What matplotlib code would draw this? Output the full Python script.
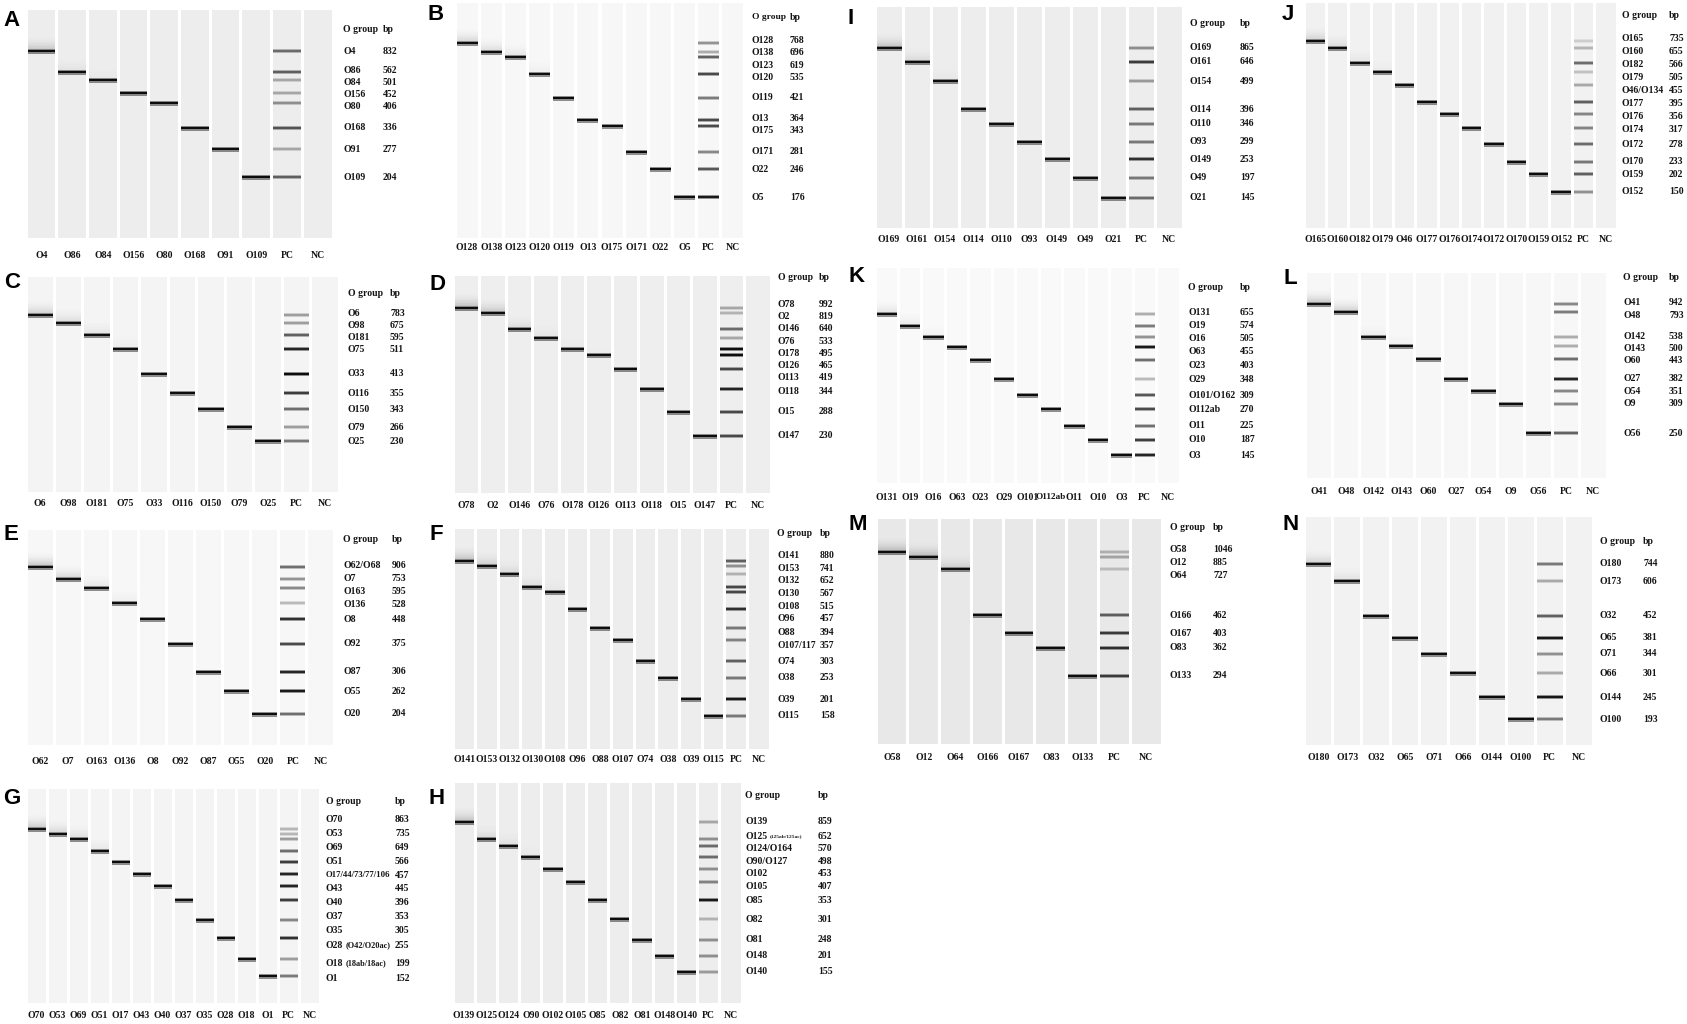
import matplotlib
matplotlib.use("Agg")
import matplotlib.pyplot as plt
from matplotlib.patches import Rectangle

plt.rcParams['font.family'] = ['Liberation Serif', 'DejaVu Serif']

W, H = 1687, 1024

# ---- gel data: O group, amplicon size (bp), band migration (px below well), PC band intensity
A_groups = ["O4", "O86", "O84", "O156", "O80", "O168", "O91", "O109"]
A_bp = [832, 562, 501, 452, 406, 336, 277, 204]
A_mig = [41, 62, 70, 83, 93, 118, 139, 167]
A_pc = [0.55, 0.6, 0.3, 0.3, 0.4, 0.65, 0.3, 0.6]

B_groups = ["O128", "O138", "O123", "O120", "O119", "O13", "O175", "O171", "O22", "O5"]
B_bp = [768, 696, 619, 535, 421, 364, 343, 281, 246, 176]
B_mig = [40, 49, 54, 71, 95, 117, 123, 149, 166, 194]
B_pc = [0.4, 0.3, 0.6, 0.7, 0.5, 0.7, 0.7, 0.45, 0.65, 0.9]

C_groups = ["O6", "O98", "O181", "O75", "O33", "O116", "O150", "O79", "O25"]
C_bp = [783, 675, 595, 511, 413, 355, 343, 266, 230]
C_mig = [38, 46, 58, 72, 97, 116, 132, 150, 164]
C_pc = [0.35, 0.35, 0.6, 0.85, 0.95, 0.75, 0.55, 0.35, 0.5]

D_groups = ["O78", "O2", "O146", "O76", "O178", "O126", "O113", "O118", "O15", "O147"]
D_bp = [992, 819, 640, 533, 495, 465, 419, 344, 288, 230]
D_mig = [32, 37, 53, 62, 73, 79, 93, 113, 136, 160]
D_pc = [0.3, 0.25, 0.55, 0.3, 0.95, 0.95, 0.7, 0.85, 0.7, 0.7]

E_groups = ["O62/O68", "O7", "O163", "O136", "O8", "O92", "O87", "O55", "O20"]
E_bp = [906, 753, 595, 528, 448, 375, 306, 262, 204]
E_mig = [37, 49, 58, 73, 89, 114, 142, 161, 184]
E_pc = [0.55, 0.4, 0.45, 0.25, 0.8, 0.7, 0.85, 0.9, 0.55]

F_groups = ["O141", "O153", "O132", "O130", "O108", "O96", "O88", "O107/117", "O74", "O38", "O39", "O115"]
F_bp = [880, 741, 652, 567, 515, 457, 394, 357, 303, 253, 201, 158]
F_mig = [32, 37, 45, 58, 63, 80, 99, 111, 132, 149, 170, 187]
F_pc = [0.6, 0.4, 0.25, 0.7, 0.7, 0.8, 0.5, 0.45, 0.6, 0.5, 0.9, 0.5]

G_groups = ["O70", "O53", "O69", "O51", "O17/44/73/77/106", "O43", "O40", "O37", "O35",
            "O28 (O42/O20ac)", "O18 (18ab/18ac)", "O1"]
G_bp = [863, 735, 649, 566, 457, 445, 396, 353, 305, 255, 199, 152]
G_mig = [40, 45, 50, 62, 73, 85, 97, 111, 131, 149, 170, 187]
G_pc = [0.25, 0.25, 0.35, 0.55, 0.75, 0.85, 0.85, 0.75, 0.45, 0.8, 0.35, 0.5]

H_groups = ["O139", "O125 (125ab/125ac)", "O124/O164", "O90/O127", "O102", "O105", "O85",
            "O82", "O81", "O148", "O140"]
H_bp = [859, 652, 570, 498, 453, 407, 353, 301, 248, 201, 155]
H_mig = [39, 56, 63, 74, 86, 99, 117, 136, 157, 173, 189]
H_pc = [0.3, 0.4, 0.55, 0.55, 0.4, 0.45, 0.9, 0.25, 0.4, 0.4, 0.35]

I_groups = ["O169", "O161", "O154", "O114", "O110", "O93", "O149", "O49", "O21"]
I_bp = [865, 646, 499, 396, 346, 299, 253, 197, 145]
I_mig = [41, 55, 74, 102, 117, 135, 152, 171, 191]
I_pc = [0.4, 0.75, 0.35, 0.6, 0.5, 0.5, 0.8, 0.5, 0.55]

J_groups = ["O165", "O160", "O182", "O179", "O46/O134", "O177", "O176", "O174", "O172",
            "O170", "O159", "O152"]
J_bp = [735, 655, 566, 505, 455, 395, 356, 317, 278, 233, 202, 150]
J_mig = [38, 45, 60, 69, 82, 99, 111, 125, 141, 159, 171, 189]
J_pc = [0.15, 0.25, 0.55, 0.2, 0.3, 0.6, 0.45, 0.45, 0.55, 0.5, 0.6, 0.4]

K_groups = ["O131", "O19", "O16", "O63", "O23", "O29", "O101/O162", "O112ab", "O11", "O10", "O3"]
K_bp = [655, 574, 505, 455, 403, 348, 309, 270, 225, 187, 145]
K_mig = [46, 58, 69, 79, 92, 111, 127, 141, 158, 172, 187]
K_pc = [0.3, 0.5, 0.4, 0.9, 0.55, 0.25, 0.65, 0.7, 0.55, 0.75, 0.85]

L_groups = ["O41", "O48", "O142", "O143", "O60", "O27", "O54", "O9", "O56"]
L_bp = [942, 793, 538, 500, 443, 382, 351, 309, 250]
L_mig = [31, 39, 64, 73, 86, 106, 118, 131, 160]
L_pc = [0.45, 0.5, 0.3, 0.3, 0.55, 0.85, 0.45, 0.45, 0.6]

M_groups = ["O58", "O12", "O64", "O166", "O167", "O83", "O133"]
M_bp = [1046, 885, 727, 462, 403, 362, 294]
M_mig = [33, 38, 50, 96, 114, 129, 157]
M_pc = [0.25, 0.3, 0.2, 0.6, 0.75, 0.8, 0.75]

N_groups = ["O180", "O173", "O32", "O65", "O71", "O66", "O144", "O100"]
N_bp = [744, 606, 452, 381, 344, 301, 245, 193]
N_mig = [47, 64, 99, 121, 137, 156, 180, 202]
N_pc = [0.5, 0.3, 0.6, 0.9, 0.4, 0.3, 0.9, 0.5]

panels = {
    "A": (A_groups, A_bp, A_mig, A_pc), "B": (B_groups, B_bp, B_mig, B_pc),
    "C": (C_groups, C_bp, C_mig, C_pc), "D": (D_groups, D_bp, D_mig, D_pc),
    "E": (E_groups, E_bp, E_mig, E_pc), "F": (F_groups, F_bp, F_mig, F_pc),
    "G": (G_groups, G_bp, G_mig, G_pc), "H": (H_groups, H_bp, H_mig, H_pc),
    "I": (I_groups, I_bp, I_mig, I_pc), "J": (J_groups, J_bp, J_mig, J_pc),
    "K": (K_groups, K_bp, K_mig, K_pc), "L": (L_groups, L_bp, L_mig, L_pc),
    "M": (M_groups, M_bp, M_mig, M_pc), "N": (N_groups, N_bp, N_mig, N_pc),
}

# ---- layout in pixels: gel left/right, well top, gel bottom, lane label row, header row,
# label columns, panel letter centre, lane background grey, label spacing
layout = {
    "A": dict(x0=26, x1=333, top=10, bot=238, lab=255, head=29, c1=343, c2=383, let=(11, 20), bg=0.93, d=12.0),
    "B": dict(x0=455, x1=745, top=3, bot=238, lab=248, head=17, c1=752, c2=790, let=(436, 15), bg=0.97, d=12.5),
    "C": dict(x0=26, x1=339, top=277, bot=492, lab=503, head=294, c1=348, c2=390, let=(12, 282), bg=0.955, d=12.0),
    "D": dict(x0=453, x1=771, top=276, bot=493, lab=505, head=278, c1=778, c2=819, let=(437, 284), bg=0.935, d=12.3),
    "E": dict(x0=26, x1=335, top=530, bot=745, lab=761, head=539, c1=343, c2=392, let=(11, 535), bg=0.97, d=13.0),
    "F": dict(x0=453, x1=770, top=529, bot=749, lab=760, head=533, c1=777, c2=820, let=(436, 534), bg=0.93, d=12.7),
    "G": dict(x0=26, x1=320, top=789, bot=1003, lab=1016, head=801, c1=326, c2=395, let=(12, 798), bg=0.955, d=13.8),
    "H": dict(x0=453, x1=742, top=783, bot=1003, lab=1015, head=796, c1=745, c2=818, let=(437, 798), bg=0.93, d=12.5),
    "I": dict(x0=875, x1=1183, top=7, bot=228, lab=240, head=24, c1=1190, c2=1240, let=(851, 18), bg=0.93, d=13.0),
    "J": dict(x0=1304, x1=1617, top=3, bot=228, lab=239, head=16, c1=1622, c2=1669, let=(1288, 15), bg=0.945, d=13.0),
    "K": dict(x0=875, x1=1180, top=268, bot=483, lab=497, head=287, c1=1188, c2=1240, let=(857, 276), bg=0.975, d=13.3),
    "L": dict(x0=1305, x1=1607, top=273, bot=478, lab=492, head=277, c1=1623, c2=1669, let=(1290, 278), bg=0.97, d=12.3),
    "M": dict(x0=876, x1=1162, top=519, bot=744, lab=757, head=528, c1=1170, c2=1213, let=(858, 524), bg=0.91, d=13.0),
    "N": dict(x0=1304, x1=1593, top=517, bot=745, lab=757, head=541, c1=1600, c2=1643, let=(1291, 524), bg=0.95, d=13.0),
}

FS = 7.0
TXT = dict(fontsize=FS, fontweight='bold', color='#141414')


def isotonic(z):
    blocks = []
    for v in z:
        blocks.append([v, 1])
        while len(blocks) > 1 and blocks[-2][0] > blocks[-1][0]:
            v2, n2 = blocks.pop()
            v1, n1 = blocks.pop()
            blocks.append([(v1 * n1 + v2 * n2) / (n1 + n2), n1 + n2])
    out = []
    for v, n in blocks:
        out += [v] * n
    return out


def label_rows(ys, d):
    sweep = []
    for y in ys:
        sweep.append(y if not sweep else max(y, sweep[-1] + d))
    fit = isotonic([y - i * d for i, y in enumerate(ys)])
    iso = [f + i * d for i, f in enumerate(fit)]
    return [(a + b) / 2 for a, b in zip(sweep, iso)]


def band(ax, x, y, w, shade, bg, core=2.4, halo=4.8):
    c = bg * (1 - shade)
    ax.add_patch(Rectangle((x, y - halo / 2), w, halo, fc=(c, c, c), ec='none', alpha=0.45))
    ax.add_patch(Rectangle((x, y - core / 2), w, core, fc=(c, c, c), ec='none'))


def fit_text(t, room):
    wpx = t.get_window_extent(renderer).width
    if wpx > room:
        t.set_fontsize(t.get_fontsize() * room / wpx)
    return wpx


fig = plt.figure(figsize=(W / 100, H / 100), dpi=100)
renderer = fig.canvas.get_renderer()

for key, (groups, bp, mig, pc) in panels.items():
    L = layout[key]
    n = len(groups) + 2
    pitch = (L['x1'] - L['x0']) / n
    gel_h = L['bot'] - L['top']
    bg = L['bg']
    ax = fig.add_axes([L['x0'] / W, 1 - L['bot'] / H, (L['x1'] - L['x0']) / W, gel_h / H])
    ax.set_xlim(0, n)
    ax.set_ylim(gel_h, 0)
    ax.axis('off')
    gap = 3.0 / pitch
    lw = 1 - gap
    for i in range(n):
        ax.add_patch(Rectangle((i + gap / 2, 0), lw, gel_h, fc=(bg, bg, bg), ec='none'))

    # sample lanes: one band each, with a faint smear above large products
    for i, (s, y) in enumerate(zip(bp, mig)):
        smear = min(1.0, max(0.0, (s - 450) / 450))
        steps = 22
        for k in range(steps):
            a = 0.22 * smear * (1 - k / steps) ** 2
            if a > 0.003:
                c = bg * 0.25
                ax.add_patch(Rectangle((i + gap / 2, y - 2.2 - (k + 1) * 0.6), lw, 0.6,
                                       fc=(c, c, c), ec='none', alpha=a))
        band(ax, i + gap / 2, y, lw, 0.95, bg, core=2.8, halo=5.0)

    # positive control: every band of the panel
    ipc = n - 2
    for y, t in zip(mig, pc):
        band(ax, ipc + gap / 2, y, lw, t, bg, core=2.2, halo=4.0)

    # lane labels, shrunk only where a name is much wider than its lane
    lanes = [g.split('/')[0].split(' (')[0] for g in groups] + ['PC', 'NC']
    for i, name in enumerate(lanes):
        t = ax.text(i + 0.5, L['lab'] - L['top'], name, ha='center', va='center', clip_on=False, **TXT)
        fit_text(t, pitch * 1.3)

    # right-hand key
    cx1 = (L['c1'] - L['x0']) / pitch
    cx2 = (L['c2'] - L['x0']) / pitch
    room = L['c2'] - L['c1'] - 4
    t = ax.text(cx1, L['head'] - L['top'], 'O group', ha='left', va='center', clip_on=False, **TXT)
    fit_text(t, room)
    ax.text(cx2, L['head'] - L['top'], 'bp', ha='left', va='center', clip_on=False, **TXT)
    rows = label_rows(mig, L['d'])
    for g, s, y in zip(groups, bp, rows):
        main, _, sub = g.partition(' (')
        t = ax.text(cx1, y, main, ha='left', va='center', clip_on=False, **TXT)
        if sub:
            wpx = t.get_window_extent(renderer).width
            sub_fs = FS * (0.55 if key == 'H' else 0.85)
            t2 = ax.text(cx1 + (wpx + 2.5) / pitch, y, '(' + sub, ha='left', va='center',
                         clip_on=False, fontsize=sub_fs, fontweight='bold', color='#141414')
            fit_text(t2, room - wpx - 2.5)
        else:
            fit_text(t, room)
        ax.text(cx2, y, str(s), ha='left', va='center', clip_on=False, **TXT)

    fig.text(L['let'][0] / W, 1 - L['let'][1] / H, key, ha='center', va='center',
             fontsize=16, fontweight='bold', family=['Liberation Sans', 'DejaVu Sans'])

fig.savefig('out.png', dpi=100, facecolor='white')
